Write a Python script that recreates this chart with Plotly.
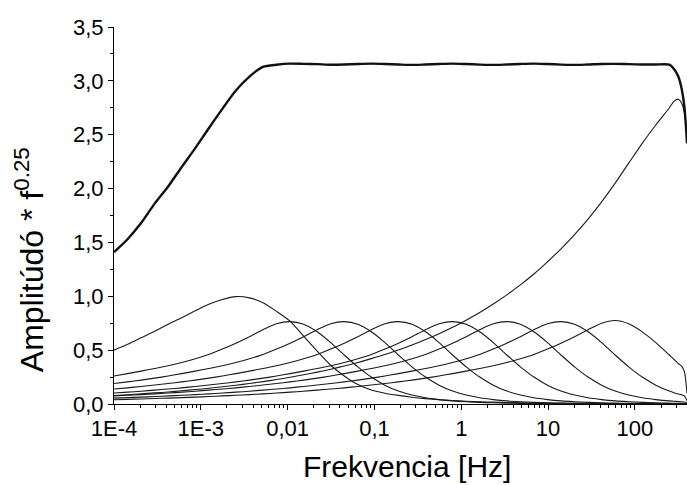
import plotly.graph_objects as go

FREQ = [1.0e-4, 1.432e-4, 2.051e-4, 2.938e-4, 4.207e-4, 6.026e-4, 8.630e-4,
        1.236e-3, 1.770e-3, 2.535e-3, 3.631e-3, 5.200e-3, 7.448e-3,
        1.067e-2, 1.528e-2, 2.188e-2, 3.134e-2, 4.489e-2, 6.429e-2, 9.208e-2,
        0.1319, 0.1889, 0.2705, 0.3875, 0.555, 0.7949, 1.1385, 1.631, 2.336,
        3.345, 4.791, 6.862, 9.829, 14.08, 20.16, 28.88, 41.36, 59.24, 84.85,
        121.5, 174.1, 249.3, 281.8, 316.2, 346.7, 371.5, 398.1]

TOTAL = [1.41, 1.53, 1.68, 1.86, 2.02, 2.20, 2.375, 2.56, 2.74, 2.91,
         3.04, 3.13, 3.15, 3.16, 3.158, 3.155, 3.15, 3.152, 3.157, 3.16,
         3.157, 3.152, 3.148, 3.152, 3.157, 3.16, 3.156, 3.151, 3.148, 3.152,
         3.157, 3.16, 3.156, 3.151, 3.148, 3.152, 3.157, 3.158, 3.155, 3.152,
         3.152, 3.15, 3.11, 3.04, 2.92, 2.76, 2.42]

BAND_1 = [0.50, 0.555, 0.615, 0.675, 0.74, 0.80, 0.865, 0.925, 0.97, 0.997,
          0.985, 0.94, 0.86, 0.77, 0.63, 0.49, 0.36, 0.26, 0.18, 0.13,
          0.10, 0.08, 0.063, 0.05, 0.04, 0.032, 0.026, 0.021, 0.017, 0.014,
          0.011, 0.009, 0.008, 0.007, 0.006, 0.005, 0.005, 0.004, 0.004, 0.003,
          0.003, 0.003, 0.003, 0.003, 0.003, 0.002, 0.002]

BAND_2 = [0.26, 0.282, 0.305, 0.33, 0.355, 0.385, 0.42, 0.46, 0.51, 0.565,
          0.625, 0.69, 0.745, 0.765, 0.74, 0.67, 0.57, 0.455, 0.345, 0.25,
          0.175, 0.12, 0.083, 0.058, 0.041, 0.029, 0.021, 0.015, 0.011, 0.008,
          0.006, 0.005, 0.004, 0.003, 0.003, 0.003, 0.003, 0.003, 0.003, 0.003,
          0.003, 0.003, 0.003, 0.003, 0.003, 0.002, 0.002]

BAND_3 = [0.19, 0.205, 0.222, 0.24, 0.26, 0.282, 0.305, 0.33, 0.355, 0.385,
          0.42, 0.46, 0.51, 0.565, 0.625, 0.69, 0.745, 0.765, 0.74, 0.67,
          0.57, 0.455, 0.345, 0.25, 0.175, 0.12, 0.083, 0.058, 0.041, 0.029,
          0.021, 0.015, 0.011, 0.008, 0.006, 0.005, 0.004, 0.003, 0.003, 0.003,
          0.003, 0.003, 0.003, 0.003, 0.003, 0.002, 0.002]

BAND_4 = [0.139, 0.15, 0.163, 0.176, 0.19, 0.205, 0.222, 0.24, 0.26, 0.282,
          0.305, 0.33, 0.355, 0.385, 0.42, 0.46, 0.51, 0.565, 0.625, 0.69,
          0.745, 0.765, 0.74, 0.67, 0.57, 0.455, 0.345, 0.25, 0.175, 0.12,
          0.083, 0.058, 0.041, 0.029, 0.021, 0.015, 0.011, 0.008, 0.006, 0.005,
          0.004, 0.003, 0.003, 0.003, 0.003, 0.002, 0.002]

BAND_5 = [0.102, 0.11, 0.119, 0.129, 0.139, 0.15, 0.163, 0.176, 0.19, 0.205,
          0.222, 0.24, 0.26, 0.282, 0.305, 0.33, 0.355, 0.385, 0.42, 0.46,
          0.51, 0.565, 0.625, 0.69, 0.745, 0.765, 0.74, 0.67, 0.57, 0.455,
          0.345, 0.25, 0.175, 0.12, 0.083, 0.058, 0.041, 0.029, 0.021, 0.015,
          0.011, 0.008, 0.007, 0.006, 0.006, 0.005, 0.003]

BAND_6 = [0.075, 0.081, 0.087, 0.094, 0.102, 0.11, 0.119, 0.129, 0.139, 0.15,
          0.163, 0.176, 0.19, 0.205, 0.222, 0.24, 0.26, 0.282, 0.305, 0.33,
          0.355, 0.385, 0.42, 0.46, 0.51, 0.565, 0.625, 0.69, 0.745, 0.765,
          0.74, 0.67, 0.57, 0.455, 0.345, 0.25, 0.175, 0.12, 0.083, 0.058,
          0.041, 0.029, 0.026, 0.023, 0.021, 0.018, 0.01]

BAND_7 = [0.055, 0.059, 0.064, 0.069, 0.075, 0.081, 0.087, 0.094, 0.102, 0.11,
          0.119, 0.129, 0.139, 0.15, 0.163, 0.176, 0.19, 0.205, 0.222, 0.24,
          0.26, 0.282, 0.305, 0.33, 0.355, 0.385, 0.42, 0.46, 0.51, 0.565,
          0.625, 0.69, 0.745, 0.765, 0.74, 0.67, 0.57, 0.455, 0.345, 0.25,
          0.175, 0.12, 0.105, 0.093, 0.085, 0.075, 0.03]

BAND_8 = [0.040, 0.043, 0.047, 0.051, 0.055, 0.059, 0.064, 0.069, 0.075, 0.081,
          0.087, 0.094, 0.102, 0.11, 0.119, 0.129, 0.139, 0.15, 0.163, 0.176,
          0.19, 0.205, 0.222, 0.24, 0.26, 0.282, 0.305, 0.33, 0.355, 0.385,
          0.42, 0.46, 0.51, 0.565, 0.625, 0.69, 0.75, 0.775, 0.745, 0.67,
          0.57, 0.455, 0.415, 0.375, 0.35, 0.30, 0.10]

HIGH = [0.079, 0.086, 0.094, 0.103, 0.112, 0.123, 0.134, 0.146, 0.160, 0.174,
        0.190, 0.208, 0.227, 0.248, 0.271, 0.296, 0.323, 0.353, 0.385, 0.421,
        0.459, 0.501, 0.547, 0.598, 0.653, 0.712, 0.778, 0.849, 0.928, 1.013,
        1.106, 1.207, 1.32, 1.441, 1.573, 1.717, 1.876, 2.05, 2.236, 2.42,
        2.59, 2.75, 2.81, 2.83, 2.79, 2.70, 2.50]

X_TICKS = [1e-4, 1e-3, 1e-2, 1e-1, 1, 10, 100]
X_TICKTEXT = ["1E-4", "1E-3", "0,01", "0,1", "1", "10", "100"]
Y_TICKS = [0, 0.5, 1.0, 1.5, 2.0, 2.5, 3.0, 3.5]
Y_TICKTEXT = ["0,0", "0,5", "1,0", "1,5", "2,0", "2,5", "3,0", "3,5"]

FONT = "Liberation Sans, Arial, Helvetica, sans-serif"
TICK_FONT = dict(family=FONT, size=22, color="black")

fig = go.Figure()
for ys in [BAND_1, BAND_2, BAND_3, BAND_4, BAND_5, BAND_6, BAND_7, BAND_8, HIGH]:
    fig.add_trace(go.Scatter(x=FREQ, y=ys, mode="lines",
                             line=dict(color="#1a1a1a", width=1.1,
                                       shape="spline", smoothing=0.7),
                             hoverinfo="skip"))
fig.add_trace(go.Scatter(x=FREQ, y=TOTAL, mode="lines",
                         line=dict(color="#111111", width=2.4,
                                   shape="spline", smoothing=0.7),
                         hoverinfo="skip"))

x_minor = [m * 10.0 ** e for e in range(-4, 3) for m in range(2, 10)]
y_minor = [0.25, 0.75, 1.25, 1.75, 2.25, 2.75, 3.25]

fig.update_layout(
    width=687, height=485,
    margin=dict(l=114, r=0, t=27, b=81),
    paper_bgcolor="white", plot_bgcolor="white",
    showlegend=False,
    separators=", ",
    font=dict(family=FONT, color="black", size=22),
    xaxis=dict(type="log", range=[-4, 2.6],
               tickmode="array", tickvals=X_TICKS, ticktext=X_TICKTEXT,
               ticks="outside", ticklen=5, tickwidth=1, tickcolor="black",
               showline=True, linecolor="black", linewidth=1,
               showgrid=False, zeroline=False,
               tickfont=TICK_FONT,
               minor=dict(tickmode="array", tickvals=x_minor, ticks="outside",
                          ticklen=3, tickwidth=1, tickcolor="black",
                          showgrid=False)),
    yaxis=dict(range=[0, 3.5],
               tickmode="array", tickvals=Y_TICKS, ticktext=Y_TICKTEXT,
               ticks="outside", ticklen=5, tickwidth=1, tickcolor="black",
               showline=True, linecolor="black", linewidth=1,
               showgrid=False, zeroline=False,
               tickfont=TICK_FONT,
               minor=dict(tickmode="array", tickvals=y_minor, ticks="outside",
                          ticklen=3, tickwidth=1, tickcolor="black",
                          showgrid=False)),
    annotations=[
        dict(text="Frekvencia [Hz]", xref="paper", yref="paper",
             x=0.511, y=-0.167, xanchor="center", yanchor="middle",
             showarrow=False, font=dict(family=FONT, size=30, color="black")),
        dict(text="Amplitúdó * f<sup>0.25</sup>", xref="paper", yref="paper",
             x=-0.148, y=0.382, xanchor="center", yanchor="middle",
             textangle=-90, showarrow=False,
             font=dict(family=FONT, size=32, color="black")),
    ],
)

fig.write_html("out.html")
